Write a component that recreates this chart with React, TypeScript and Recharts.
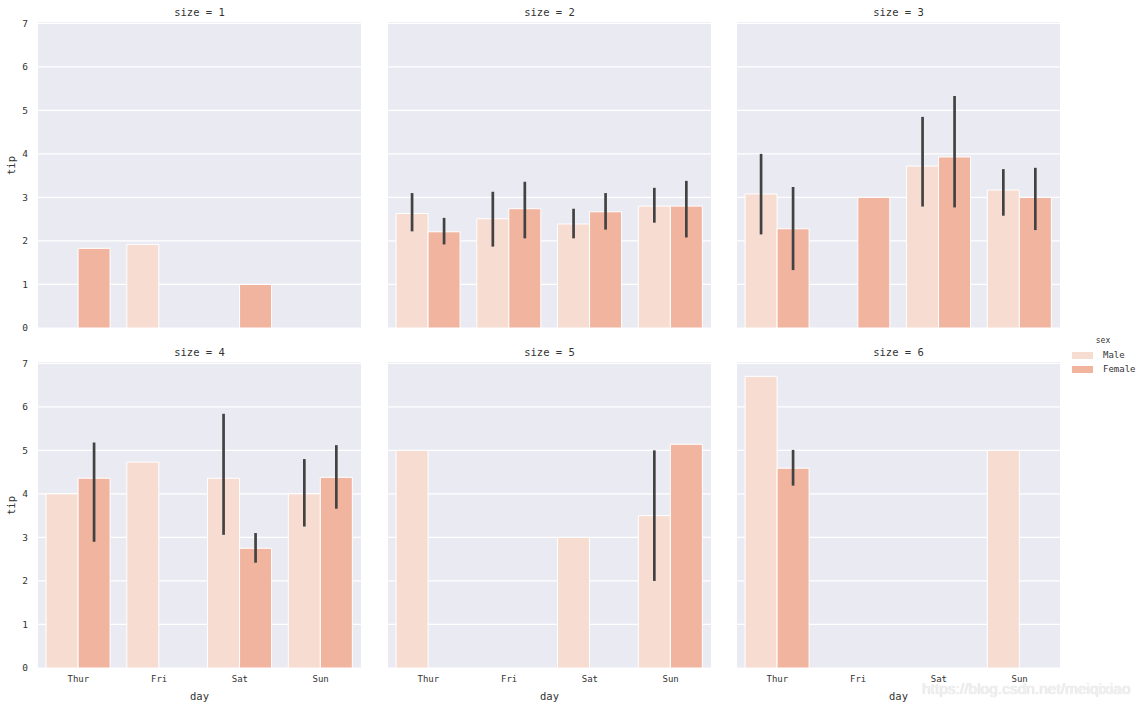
import React from "react";
import { BarChart, Bar, XAxis, YAxis, CartesianGrid, ErrorBar } from "recharts";

const days = ["Thur", "Fri", "Sat", "Sun"];
const sizes = [1, 2, 3, 4, 5, 6];
const yTicks = [0, 1, 2, 3, 4, 5, 6, 7];

// mean tip per facet (size) and day
const maleTip = [
  [null, 1.92, null, null],
  [2.63, 2.51, 2.39, 2.8],
  [3.08, null, 3.72, 3.17],
  [4.0, 4.73, 4.36, 4.0],
  [5.0, null, 3.0, 3.5],
  [6.7, null, null, 5.0],
];
const femaleTip = [
  [1.83, null, 1.0, null],
  [2.21, 2.74, 2.67, 2.8],
  [2.28, 3.0, 3.93, 3.0],
  [4.36, null, 2.75, 4.38],
  [null, null, null, 5.14],
  [4.59, null, null, null],
];

// confidence interval ends
const maleLow = [
  [null, null, null, null],
  [2.22, 1.87, 2.06, 2.42],
  [2.15, null, 2.79, 2.58],
  [null, null, 3.06, 3.25],
  [null, null, null, 2.0],
  [null, null, null, null],
];
const maleHigh = [
  [null, null, null, null],
  [3.1, 3.13, 2.74, 3.22],
  [4.0, null, 4.85, 3.65],
  [null, null, 5.84, 4.8],
  [null, null, null, 5.0],
  [null, null, null, null],
];
const femaleLow = [
  [null, null, null, null],
  [1.92, 2.06, 2.26, 2.08],
  [1.33, null, 2.77, 2.25],
  [2.9, null, 2.42, 3.66],
  [null, null, null, null],
  [4.19, null, null, null],
];
const femaleHigh = [
  [null, null, null, null],
  [2.53, 3.36, 3.1, 3.38],
  [3.24, null, 5.33, 3.68],
  [5.18, null, 3.1, 5.12],
  [null, null, null, null],
  [5.01, null, null, null],
];

const MALE = "#f6dcd1";
const FEMALE = "#f0b49f";
const FONT = "'DejaVu Sans Mono', monospace";
const TEXT = "#333";

function err(v, lo, hi) {
  if (v == null || lo == null || hi == null) return undefined;
  return [v - lo, hi - v];
}

function Facet({ i, left, top, showY, showX }) {
  const data = days.map((d, j) => ({
    day: d,
    Male: maleTip[i][j],
    Female: femaleTip[i][j],
    maleErr: err(maleTip[i][j], maleLow[i][j], maleHigh[i][j]),
    femaleErr: err(femaleTip[i][j], femaleLow[i][j], femaleHigh[i][j]),
  }));
  const yw = showY ? 38 : 0;
  const width = 323 + yw;
  const height = 22 + 306 + (showX ? 40 : 8);
  return (
    <div style={{ position: "absolute", left, top, width, height }}>
      <div
        style={{
          position: "absolute",
          left: yw,
          width: 323,
          top: 4,
          lineHeight: "16px",
          textAlign: "center",
          fontFamily: FONT,
          fontSize: 10.5,
          color: TEXT,
        }}
      >
        size = {sizes[i]}
      </div>
      <BarChart
        width={width}
        height={height}
        data={data}
        margin={{ top: 22, right: 0, left: 0, bottom: showX ? 0 : 8 }}
        barCategoryGap="10%"
        barGap={0}
      >
        <CartesianGrid
          vertical={false}
          stroke="#fff"
          strokeWidth={1.2}
          fill="#eaeaf2"
          fillOpacity={1}
          horizontalValues={yTicks}
        />
        <XAxis
          dataKey="day"
          hide={!showX}
          height={40}
          axisLine={false}
          tickLine={false}
          tickSize={0}
          tickMargin={8}
          tick={{ fill: TEXT, fontSize: 9, fontFamily: FONT }}
          label={{
            value: "day",
            position: "insideBottom",
            offset: 8,
            fill: TEXT,
            fontSize: 10.5,
            fontFamily: FONT,
          }}
        />
        <YAxis
          hide={!showY}
          width={38}
          domain={[0, 7.03]}
          ticks={yTicks}
          interval={0}
          axisLine={false}
          tickLine={false}
          tickSize={0}
          tickMargin={10}
          tick={{ fill: TEXT, fontSize: 9.5, fontFamily: FONT }}
          label={{
            value: "tip",
            angle: -90,
            position: "insideLeft",
            offset: 11,
            fill: TEXT,
            fontSize: 10.5,
            fontFamily: FONT,
          }}
        />
        <Bar dataKey="Male" fill={MALE} stroke="#fff" strokeWidth={1} isAnimationActive={false}>
          <ErrorBar dataKey="maleErr" width={0} stroke="#424242" strokeWidth={2.7} />
        </Bar>
        <Bar dataKey="Female" fill={FEMALE} stroke="#fff" strokeWidth={1} isAnimationActive={false}>
          <ErrorBar dataKey="femaleErr" width={0} stroke="#424242" strokeWidth={2.7} />
        </Bar>
      </BarChart>
    </div>
  );
}

export default function App() {
  const cols = [0, 388, 737];
  const rows = [0, 340];
  return (
    <div
      style={{
        position: "absolute",
        left: 0,
        top: 0,
        width: 1145,
        height: 708,
        background: "#fff",
        overflow: "hidden",
      }}
    >
      {sizes.map((s, i) => {
        const r = Math.floor(i / 3);
        const c = i % 3;
        return (
          <Facet key={s} i={i} left={cols[c]} top={rows[r]} showY={c === 0} showX={r === 1} />
        );
      })}
      <div style={{ position: "absolute", left: 1072, top: 334, fontFamily: FONT, color: TEXT }}>
        <div style={{ fontSize: 8, textAlign: "center", width: 62, height: 14, lineHeight: "14px" }}>sex</div>
        {[
          ["Male", MALE],
          ["Female", FEMALE],
        ].map(([name, col]) => (
          <div key={name} style={{ display: "flex", alignItems: "center", height: 14, fontSize: 9 }}>
            <span style={{ display: "inline-block", width: 21, height: 7, background: col, marginRight: 10 }} />
            {name}
          </div>
        ))}
      </div>
      <div
        style={{
          position: "absolute",
          left: 922,
          top: 680,
          fontFamily: "'Liberation Sans', Arial, sans-serif",
          fontSize: 15.5,
          color: "#f2f2f2",
          textShadow: "0 0 1px #c8c8c8",
        }}
      >
        https://blog.csdn.net/meiqixiao
      </div>
    </div>
  );
}
